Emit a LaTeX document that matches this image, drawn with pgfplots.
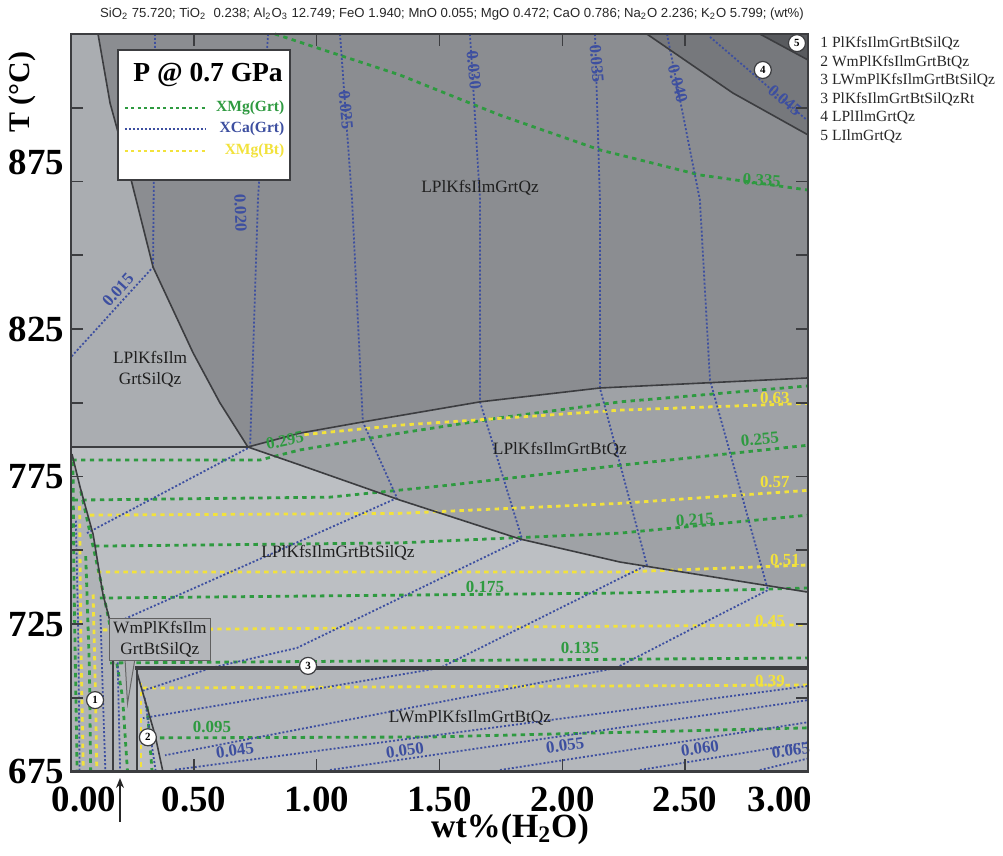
\documentclass[border=0pt]{standalone}
\usepackage{fontspec}
\setmainfont{Liberation Serif}
\setsansfont{Liberation Sans}
\usepackage{pgfplots}
\pgfplotsset{compat=1.18}
\usetikzlibrary{arrows.meta}

\definecolor{gA}{HTML}{8B8D91}
\definecolor{gB}{HTML}{9FA2A6}
\definecolor{gC}{HTML}{AAADB1}
\definecolor{gD}{HTML}{BCBFC3}
\definecolor{gE}{HTML}{B4B7BB}
\definecolor{gF}{HTML}{B0B3B7}
\definecolor{gfour}{HTML}{76787C}
\definecolor{gfive}{HTML}{585A5E}
\definecolor{isoG}{HTML}{2E9A40}
\definecolor{isoB}{HTML}{3D4FA0}
\definecolor{isoY}{HTML}{F2E23C}
\definecolor{bnd}{HTML}{3C3D40}

\tikzset{
 gl/.style={isoG, line width=1.4bp, dash pattern=on 2.2bp off 2.2bp},
 bl/.style={isoB, line width=0.9bp, dash pattern=on 1bp off 1bp},
 yl/.style={isoY, line width=1.4bp, dash pattern=on 2.2bp off 2.2bp},
 bd/.style={bnd, line width=0.8bp},
 lab/.style={font=\fontsize{8.5}{9}\selectfont\bfseries, inner sep=0.5pt},
 reg/.style={font=\fontsize{8.7}{10.5}\selectfont, text=black!88, align=center, inner sep=0pt},
 cn/.style={circle, draw=bnd, fill=white, line width=0.6bp, inner sep=0pt, minimum size=8.5bp, font=\fontsize{5.5}{6}\selectfont\bfseries},
 leg/.style={font=\fontsize{7.8}{9}\selectfont\bfseries, anchor=east, inner sep=0pt},
}

\begin{document}
\begin{tikzpicture}
\path[use as bounding box] (-35.5bp,-42.25bp) rectangle (466bp,385.75bp);
\begin{axis}[
 at={(0,0)}, anchor=south west,
 scale only axis, width=368.5bp, height=368.75bp,
 xmin=0, xmax=3, ymin=675, ymax=925,
 axis line style={bnd, line width=1.3bp},
 tick align=inside, major tick length=6bp,
 tick style={bnd, line width=0.8bp},
 xtick={0,0.5,1,1.5,2,2.5,3},
 xticklabels={\hspace*{13bp}0.00,0.50,1.00,1.50,2.00,2.50,3.00\hspace*{28bp}},
 ytick={675,700,725,750,775,800,825,850,875,900},
 yticklabels={675,,725,,775,,825,,\raisebox{19bp}{875},},
 ticklabel style={font=\fontsize{18.5}{20}\selectfont\bfseries},
 xticklabel style={yshift=-4bp},
 clip=false,
 axis on top,
]
% ---------- regions ----------
\addplot[fill=gD, draw=none] coordinates {(0,675) (3,675) (3,925) (0,925)} -- cycle;
\addplot[fill=gC, draw=none] coordinates {(0,925) (0.110,925) (0.159,901.6) (0.248,874.5) (0.334,846.0) (0.497,816.9) (0.606,800.0) (0.720,785.0) (0,785)} -- cycle;
\addplot[fill=gA, draw=none] coordinates {(0.110,925) (0.159,901.6) (0.248,874.5) (0.334,846.0) (0.497,816.9) (0.606,800.0) (0.720,785.0) (0.932,789.7) (1.188,793.5) (1.665,800.3) (2.153,805.0) (3.0,808.4) (3,925)} -- cycle;
\addplot[fill=gB, draw=none] coordinates {(0.720,785.0) (0.932,789.7) (1.188,793.5) (1.665,800.3) (2.153,805.0) (3.0,808.4) (3.0,735.8) (2.235,746.0) (1.828,753.8) (1.339,767.0) (0.932,778.9)} -- cycle;
\addplot[fill=gE, draw=none] coordinates {(0.269,675) (0.269,710.1) (3,710.1) (3,675)} -- cycle;
\addplot[fill=gF, draw=none] coordinates {(0,782.6) (0.004,782.6) (0.037,771.4) (0.09,755.4) (0.13,735.1) (0.159,725.9) (0.171,717.1) (0.171,675) (0,675)} -- cycle;
\addplot[fill=gE, draw=none] coordinates {(0.171,717.1) (0.269,710.1) (0.269,675) (0.171,675)} -- cycle;
\addplot[fill=gD, draw=none] coordinates {(0.269,708.4) (0.301,699.2) (0.342,687.4) (0.374,675) (0.269,675)} -- cycle;
\addplot[fill=gfour, draw=none] coordinates {(2.344,925) (2.694,905) (3.0,890.8) (3,925)} -- cycle;
\addplot[fill=gfive, draw=none] coordinates {(2.804,925) (3.0,916.2) (3,925)} -- cycle;

% ---------- XMg(Grt) green ----------
\addplot[gl] coordinates {(0.83,925) (1.339,911.1) (1.746,897.5) (2.153,885.7) (2.56,877.2) (3.0,872.1)};
\addplot[gl] coordinates {(0.005,780.6) (0.769,780.6) (0.932,784.0) (1.339,789.7) (1.746,794.9) (2.235,800.3) (3.0,805.7)};
\addplot[gl] coordinates {(0.01,767.0) (1.054,768) (1.543,772.1) (2.235,778.8) (3.0,785.6)};
\addplot[gl] coordinates {(0.098,751.4) (1.339,752.5) (2.235,755.8) (3.0,761.9)};
\addplot[gl] coordinates {(0.118,733.8) (2.235,735.5) (3.0,737.2)};
\addplot[gl] coordinates {(0.159,711.8) (3.0,713.5)};
\addplot[gl] coordinates {(0.362,686.4) (1.462,686.7) (3.0,689.8)};
% ---------- XMg(Bt) yellow ----------
\addplot[yl] coordinates {(0.95,789.2) (1.339,792.4) (1.746,794.7) (2.235,797.5) (3.0,799.8)};
\addplot[yl] coordinates {(0.077,761.9) (1.339,762.5) (2.235,765.9) (3.0,770.3)};
\addplot[yl] coordinates {(0.106,742.6) (2.235,742.6) (3.0,745.0)};
\addplot[yl] coordinates {(0.13,723.0) (3.0,724.7)};
\addplot[yl] coordinates {(0.293,703.3) (3.0,704.3)};
% ---------- XCa(Grt) blue ----------
\addplot[bl] coordinates {(0.342,925) (0.334,846.0) (0.0,815.5)};
\addplot[bl] coordinates {(0.802,925) (0.761,868.7) (0.729,785) (0.065,755.8)};
\addplot[bl] coordinates {(1.095,925) (1.144,868.7) (1.188,793.5) (1.327,767.7) (0.191,725.7)};
\addplot[bl] coordinates {(1.624,925) (1.665,868.7) (1.665,800.3) (1.836,753.8) (0.92,716.9) (0.57,710.1) (0.293,702.4)};
\addplot[bl] coordinates {(2.133,925) (2.153,868.7) (2.153,805.0) (2.344,745.0) (1.502,710.1) (0.293,693.1)};
\addplot[bl] coordinates {(2.426,925) (2.56,868.7) (2.601,807.7) (2.837,736.5) (2.519,723.0) (2.218,710.1) (0.383,680.5)};
\addplot[bl] coordinates {(2.601,924) (2.996,895.8)};
\addplot[bl] coordinates {(0.423,675.6) (3.0,704.0)};
\addplot[bl] coordinates {(1.054,675.5) (3.0,699.2)};
\addplot[bl] coordinates {(1.746,675.5) (3.0,691.7)};
\addplot[bl] coordinates {(2.316,675.5) (3.0,684.9)};
\addplot[bl] coordinates {(2.804,675.5) (3.0,679.4)};
% ---------- left sliver isopleths ----------
\addplot[gl] coordinates {(0.008,780) (0.012,740) (0.02,700) (0.025,675)};
\addplot[bl] coordinates {(0.02,760) (0.03,720) (0.035,675)};
\addplot[yl] coordinates {(0.035,765) (0.04,720) (0.05,675)};
\addplot[gl] coordinates {(0.06,748) (0.075,710) (0.08,675)};
\addplot[yl] coordinates {(0.09,735) (0.1,700) (0.105,675)};
\addplot[bl] coordinates {(0.12,728) (0.13,700) (0.14,675)};
\addplot[gl] coordinates {(0.04,770) (0.12,740) (0.17,720) (0.21,700) (0.23,675)};
\addplot[bl] coordinates {(0.19,712) (0.2,675)};
\addplot[yl] coordinates {(0.285,705) (0.285,675)};
\addplot[gl] coordinates {(0.31,697) (0.33,675)};
\addplot[bl] coordinates {(0.30,700) (0.345,675)};

% ---------- boundaries ----------
\addplot[bd] coordinates {(0.110,925) (0.159,901.6) (0.248,874.5) (0.334,846.0) (0.497,816.9) (0.606,800.0) (0.720,785.0)};
\addplot[bd] coordinates {(0,785) (0.720,785.0) (0.932,789.7) (1.188,793.5) (1.665,800.3) (2.153,805.0) (3.0,808.4)};
\addplot[bd] coordinates {(0.720,785.0) (0.932,778.9) (1.339,767.0) (1.828,753.8) (2.235,746.0) (3.0,735.8)};
\addplot[bd] coordinates {(0.004,782.6) (0.037,771.4) (0.09,755.4) (0.13,735.1) (0.159,725.9) (0.171,717.1) (0.171,675)};
\addplot[bnd, line width=1.6bp] coordinates {(0.262,710.1) (3,710.1)};
\addplot[bnd, line width=1.1bp] coordinates {(0.269,710.1) (0.269,675)};
\addplot[bd] coordinates {(0.269,708.4) (0.301,699.2) (0.342,687.4) (0.374,675)};
\addplot[bd] coordinates {(2.344,925) (2.694,905) (3.0,890.8)};
\addplot[bd] coordinates {(2.804,925) (3.0,916.2)};

% ---------- region labels ----------
\node[reg] at (axis cs:1.665,872.8) {LPlKfsIlmGrtQz};
\node[reg] at (axis cs:0.322,811.4) {LPlKfsIlm\\GrtSilQz};
\node[reg] at (axis cs:1.99,784) {LPlKfsIlmGrtBtQz};
\node[reg] at (axis cs:1.087,749.1) {LPlKfsIlmGrtBtSilQz};
\node[reg] at (axis cs:1.624,693.1) {LWmPlKfsIlmGrtBtQz};
\fill[gD!80!gray, draw=gray!80!black, line width=0.5bp] (axis cs:0.22,713) -- (axis cs:0.23,698) -- (axis cs:0.26,713) -- cycle;
\node[reg, fill=gD!85!gray, draw=gray!75!black, line width=0.6bp, inner xsep=2bp, inner ysep=1.5bp] at (axis cs:0.362,719.7) {WmPlKfsIlm\\GrtBtSilQz};

% ---------- circled numbers ----------
\node[cn] at (axis cs:0.098,699.2) {1};
\node[cn] at (axis cs:0.313,686.6) {2};
\node[cn] at (axis cs:0.965,710.8) {3};
\node[cn] at (axis cs:2.816,912.8) {4};
\node[cn] at (axis cs:2.955,921.9) {5};

% ---------- isopleth labels ----------
\node[lab, text=isoG, rotate=-4] at (axis cs:2.812,875.5) {0.335};
\node[lab, text=isoG, rotate=12] at (axis cs:0.871,787.2) {0.295};
\node[lab, text=isoG, rotate=5] at (axis cs:2.804,787.6) {0.255};
\node[lab, text=isoG, rotate=4] at (axis cs:2.54,760.3) {0.215};
\node[lab, text=isoG] at (axis cs:1.685,737.6) {0.175};
\node[lab, text=isoG] at (axis cs:2.072,716.9) {0.135};
\node[lab, text=isoG] at (axis cs:0.574,690.0) {0.095};
\node[lab, text=isoY] at (axis cs:2.865,801.6) {0.63};
\node[lab, text=isoY] at (axis cs:2.865,773.1) {0.57};
\node[lab, text=isoY] at (axis cs:2.906,746.7) {0.51};
\node[lab, text=isoY] at (axis cs:2.845,726.0) {0.45};
\node[lab, text=isoY] at (axis cs:2.845,705.8) {0.39};
\node[lab, text=isoB, rotate=48] at (axis cs:0.191,838.2) {0.015};
\node[lab, text=isoB, rotate=-88] at (axis cs:0.69,864.3) {0.020};
\node[lab, text=isoB, rotate=-85] at (axis cs:1.119,899.2) {0.025};
\node[lab, text=isoB, rotate=-85] at (axis cs:1.64,912.8) {0.030};
\node[lab, text=isoB, rotate=-85] at (axis cs:2.14,914.9) {0.035};
\node[lab, text=isoB, rotate=-75] at (axis cs:2.47,908.1) {0.040};
\node[lab, text=isoB, rotate=-40] at (axis cs:2.906,902.6) {0.045};
\node[lab, text=isoB, rotate=8] at (axis cs:0.667,682.2) {0.045};
\node[lab, text=isoB, rotate=8] at (axis cs:1.359,682.2) {0.050};
\node[lab, text=isoB, rotate=8] at (axis cs:2.011,683.9) {0.055};
\node[lab, text=isoB, rotate=8] at (axis cs:2.56,682.9) {0.060};
\node[lab, text=isoB, rotate=8] at (axis cs:2.93,682.2) {0.065};

% ---------- legend ----------
\draw[bnd, line width=1bp, fill=white] (axis description cs:0.0638,0.978) rectangle (axis description cs:0.297,0.802);
\node[font=\fontsize{13.8}{15}\selectfont\bfseries, inner sep=0pt] at (axis description cs:0.186,0.944) {P @ 0.7 GPa};
\draw[gl, line width=1bp, dash pattern=on 1.6bp off 1.6bp] (axis description cs:0.073,0.900) -- (axis description cs:0.182,0.900);
\draw[bl] (axis description cs:0.073,0.871) -- (axis description cs:0.182,0.871);
\draw[yl, line width=1bp, dash pattern=on 1.6bp off 1.6bp] (axis description cs:0.073,0.841) -- (axis description cs:0.182,0.841);
\node[leg, text=isoG] at (axis description cs:0.290,0.900) {XMg(Grt)};
\node[leg, text=isoB] at (axis description cs:0.290,0.871) {XCa(Grt)};
\node[leg, text=isoY] at (axis description cs:0.290,0.841) {XMg(Bt)};
\end{axis}
% ---------- outside texts ----------
\node[font=\sffamily\fontsize{6.6}{8}\selectfont, text=black!85] at (190.5bp,378.75bp) {SiO\textsubscript{2} 75.720; TiO\textsubscript{2}\ \ 0.238; Al\textsubscript{2}O\textsubscript{3} 12.749; FeO 1.940; MnO 0.055; MgO 0.472; CaO 0.786; Na\textsubscript{2}O 2.236; K\textsubscript{2}O 5.799; (wt\%)};
\node[anchor=north west, align=left, font=\fontsize{7.8}{9.3}\selectfont, text=black!85, inner sep=0pt] at (374.5bp,367.5bp) {1 PlKfsIlmGrtBtSilQz\\2 WmPlKfsIlmGrtBtQz\\3 LWmPlKfsIlmGrtBtSilQz\\3 PlKfsIlmGrtBtSilQzRt\\4 LPlIlmGrtQz\\5 LIlmGrtQz};
\node[rotate=90, font=\fontsize{15}{16}\selectfont\bfseries] at (-24.5bp,339.75bp) {T (°C)};
\node[font=\fontsize{17}{18}\selectfont\bfseries] at (219.5bp,-29bp) {wt\%(H\textsubscript{2}O)};
\draw[-{Stealth[length=5bp,width=4bp]}, line width=0.9bp, black!85] (24.5bp,-25.25bp) -- (24.5bp,-3.25bp);
\end{tikzpicture}
\end{document}
